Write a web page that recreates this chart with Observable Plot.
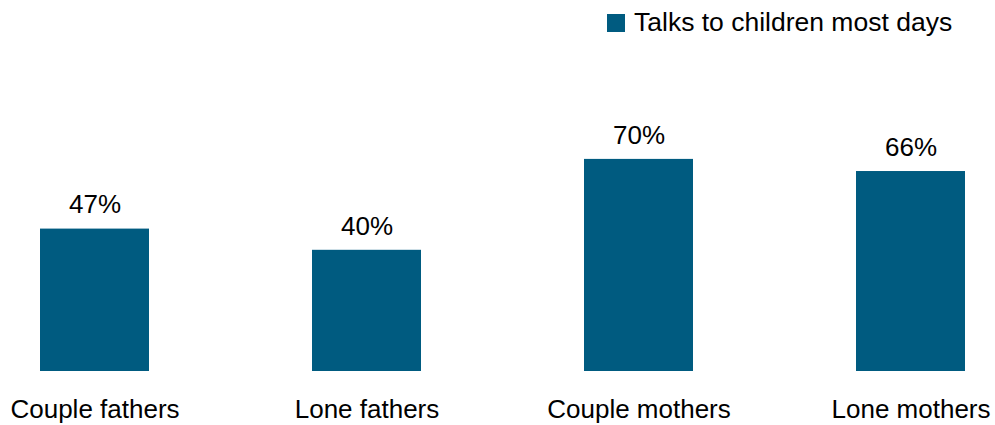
<!DOCTYPE html>
<html>
<head>
<meta charset="utf-8">
<script src="https://cdn.jsdelivr.net/npm/d3@7"></script>
<script src="https://cdn.jsdelivr.net/npm/@observablehq/plot@0.6"></script>
<style>
  html, body { margin: 0; padding: 0; background: #fff; }
  body { width: 995px; height: 425px; position: relative; overflow: hidden;
         font-family: "Liberation Sans", Arial, sans-serif; }
  #legend { position: absolute; left: 607px; top: 0px; height: 45px; display: flex; align-items: center;
            font-size: 26.5px; color: #000; }
  #legend .sw { width: 18px; height: 18px; background: #005B80; margin-right: 9px; }
  #chart { position: absolute; left: 0; top: 0; }
</style>
</head>
<body>
<div id="chart"></div>
<div id="legend"><span class="sw"></span><span id="legend-label"></span></div>
<script>
const categories = ["Couple fathers", "Lone fathers", "Couple mothers", "Lone mothers"];
const values = [47, 40, 70, 66];
const seriesName = "Talks to children most days";
const barColor = "#005B80";

document.getElementById("legend-label").textContent = seriesName;

const data = categories.map((c, i) => ({category: c, value: values[i]}));

const chart = Plot.plot({
  width: 995,
  height: 425,
  marginLeft: 19,
  marginRight: 10,
  marginTop: 68,
  marginBottom: 54,
  style: {fontFamily: "'Liberation Sans', Arial, sans-serif", fontSize: "26px", color: "#000", background: "#fff"},
  x: {domain: categories, paddingInner: 0.6, paddingOuter: 0.072, label: null},
  y: {domain: [0, 100], axis: null},
  marks: [
    Plot.barY(data, {x: "category", y: "value", fill: barColor}),
    Plot.text(data, {x: "category", y: "value", text: d => d.value + "%", dy: -24, fontSize: 26, fill: "#000"}),
    Plot.axisX({tickSize: 0, tickPadding: 28, fontSize: 26, label: null})
  ]
});
document.getElementById("chart").appendChild(chart);
</script>
</body>
</html>
